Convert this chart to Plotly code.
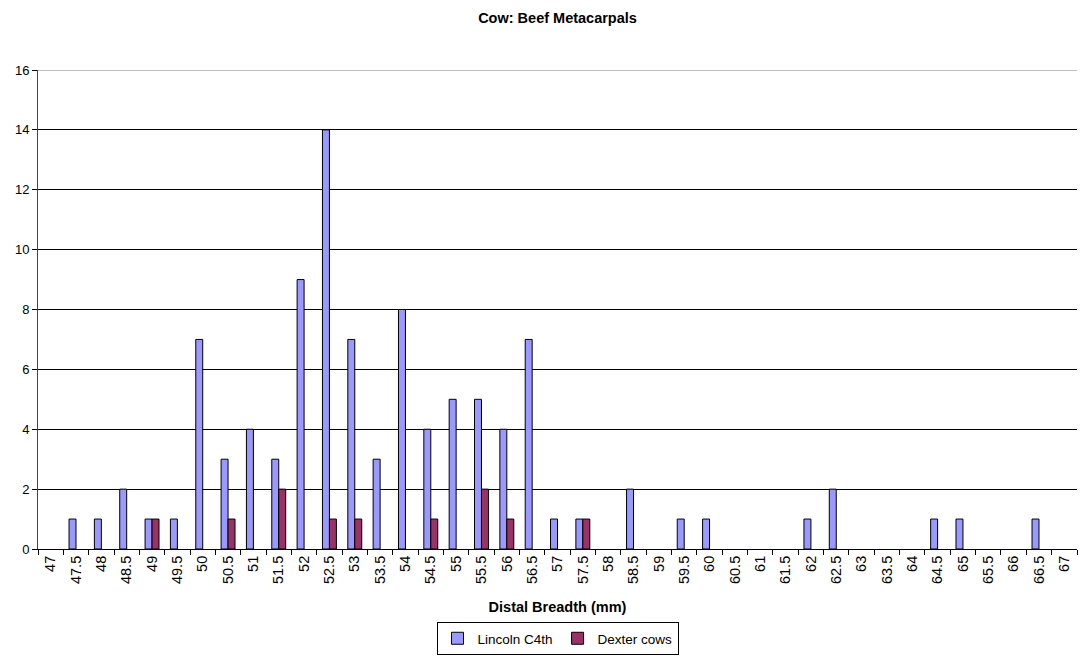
import plotly.graph_objects as go

categories = ["47", "47.5", "48", "48.5", "49", "49.5", "50", "50.5", "51", "51.5",
              "52", "52.5", "53", "53.5", "54", "54.5", "55", "55.5", "56", "56.5",
              "57", "57.5", "58", "58.5", "59", "59.5", "60", "60.5", "61", "61.5",
              "62", "62.5", "63", "63.5", "64", "64.5", "65", "65.5", "66", "66.5", "67"]
lincoln = [0, 1, 1, 2, 1, 1, 7, 3, 4, 3,
           9, 14, 7, 3, 8, 4, 5, 5, 4, 7,
           1, 1, 0, 2, 0, 1, 1, 0, 0, 0,
           1, 2, 0, 0, 0, 1, 1, 0, 0, 1, 0]
dexter = [0, 0, 0, 0, 1, 0, 0, 1, 0, 2,
          0, 1, 1, 0, 0, 1, 0, 2, 1, 0,
          0, 1, 0, 0, 0, 0, 0, 0, 0, 0,
          0, 0, 0, 0, 0, 0, 0, 0, 0, 0, 0]

font = "Liberation Sans, Arial, sans-serif"
FS = 14.5


def blank_zero(vals):
    return [v if v != 0 else None for v in vals]


fig = go.Figure()
fig.add_trace(go.Bar(x=categories, y=blank_zero(lincoln), name="Lincoln C4th",
                     marker=dict(color="#9999FF", line=dict(color="black", width=1))))
fig.add_trace(go.Bar(x=categories, y=blank_zero(dexter), name="Dexter cows",
                     marker=dict(color="#993366", line=dict(color="black", width=1))))

fig.update_layout(
    width=1084, height=656,
    paper_bgcolor="white", plot_bgcolor="white",
    font=dict(family=font, size=FS, color="black"),
    title=dict(text="<b>Cow: Beef Metacarpals</b>", x=0.5, xanchor="center",
               xref="paper", yref="container",
               y=1 - 18 / 656, yanchor="middle", font=dict(size=FS, family=font)),
    barmode="group", bargap=0.45, bargroupgap=0,
    margin=dict(l=38, r=7, t=70, b=107, autoexpand=False),
    showlegend=True,
    legend=dict(orientation="h", x=0.5, xanchor="center", xref="paper",
                y=(549 - 655) / 479, yanchor="bottom",
                bordercolor="black", borderwidth=1, font=dict(size=13.5, family=font),
                itemwidth=30, tracegroupgap=0),
    xaxis=dict(
        type="category", tickangle=-90, tickson="boundaries", ticks="outside",
        ticklen=5, tickcolor="black", showline=True, linecolor="black", linewidth=1,
        showgrid=False, tickfont=dict(size=FS, family=font), automargin=False,
        title=dict(text="<b>Distal Breadth (mm)</b>", font=dict(size=FS, family=font), standoff=18),
    ),
    yaxis=dict(
        range=[0, 16], dtick=2, ticks="outside", ticklen=5, tickcolor="black",
        showline=True, linecolor="#444444", linewidth=1, mirror=False,
        showgrid=True, gridcolor="black", gridwidth=1, zeroline=False,
        tickfont=dict(size=13, family=font), automargin=False,
    ),
)
fig.add_shape(type="line", xref="paper", yref="y", x0=0, x1=1, y0=16, y1=16,
              line=dict(color="#808080", width=1))

fig.write_html("out.html", config={"displayModeBar": False},
               post_script="document.body.style.margin='0';document.body.style.overflow='hidden';")
